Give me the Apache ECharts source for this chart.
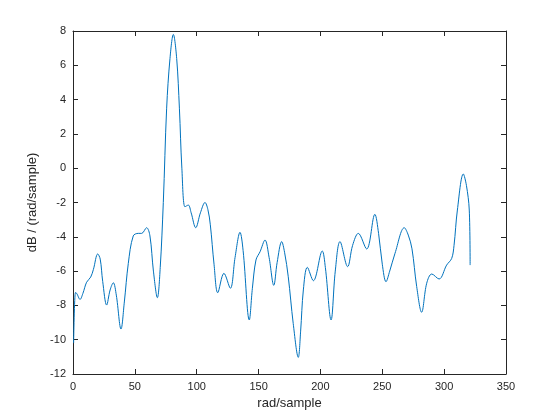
<!DOCTYPE html>
<html>
<head>
<meta charset="utf-8">
<script src="https://cdn.jsdelivr.net/npm/echarts@6/dist/echarts.min.js"></script>
<style>
html,body{margin:0;padding:0;background:#fff;}
#chart{width:560px;height:420px;}
</style>
</head>
<body>
<div id="chart"></div>
<script>
// Frequency (rad/sample) and power spectral density (dB / (rad/sample))
const freq = [0.5,2,3,5.7,8,11,14.3,16.5,20,22,24,27.2,30,32.6,35,38.8,41.5,44.7,48.7,52.8,55.5,59.5,62.2,65,68.2,70.5,73,75.7,78.4,81.1,83.8,86,88,90.5,93.2,95.5,99.2,103,106.7,109,111,114,117,122,127.2,131,135,137.5,142.5,145,147.9,151.2,155.2,158.5,162.3,165,168.7,171,174,178,182.1,184,186.2,189.4,194.3,201.5,204,208.6,212,215.8,222,226,230.6,237.4,244,247,250,253,256,260.3,267.8,271,274,277.8,281.8,285.9,290,295.9,302,306.1,308,310.7,315.5,318,320.3,321];
const psd = [-10.2,-7.25,-7.3,-7.65,-7.3,-6.65,-6.35,-5.9,-5.0,-5.3,-6.6,-7.98,-7.1,-6.68,-7.4,-9.38,-7.8,-5.55,-3.95,-3.8,-3.8,-3.47,-3.95,-6.0,-7.55,-5.8,-2.0,3.5,6.4,7.8,6.4,3.5,0.0,-2.25,-2.15,-2.6,-3.47,-2.6,-2.0,-2.4,-3.3,-5.6,-7.26,-6.13,-7.0,-5.2,-3.74,-4.8,-8.85,-7.0,-5.35,-4.87,-4.19,-5.2,-6.83,-5.5,-4.28,-4.9,-6.33,-9.05,-11.03,-9.5,-7.1,-5.78,-6.56,-4.83,-5.8,-8.85,-6.0,-4.28,-5.74,-4.5,-3.8,-4.71,-2.69,-3.8,-5.6,-6.62,-6.0,-4.96,-3.47,-3.9,-4.7,-6.9,-8.4,-6.71,-6.17,-6.46,-5.65,-5.26,-4.5,-2.44,-0.34,-1.0,-2.44,-5.65];
const xTicks = {min:0, max:350, interval:50};
const yTicks = {min:-12, max:8, interval:2};
const xLabel = 'rad/sample';
const yLabel = 'dB / (rad/sample)';

const axisColor = '#262626';
const font = 'Liberation Sans, Arial, Helvetica, sans-serif';
const chart = echarts.init(document.getElementById('chart'), null, {renderer:'canvas'});
const lineStyle = {color: axisColor, width: 1};
function xa(pos, labels){
  return {
    type:'value', position:pos, min:xTicks.min, max:xTicks.max, interval:xTicks.interval,
    axisLine:{show:true, onZero:false, lineStyle:lineStyle},
    axisTick:{show:true, inside:true, length:5, lineStyle:lineStyle},
    splitLine:{show:false},
    axisLabel:{show:labels, color:axisColor, fontSize:11, fontFamily:font, margin:7},
    name: labels ? xLabel : '', nameLocation:'middle', nameGap:22,
    nameTextStyle:{color:axisColor, fontSize:13, fontFamily:font}
  };
}
function ya(pos, labels){
  return {
    type:'value', position:pos, min:yTicks.min, max:yTicks.max, interval:yTicks.interval,
    axisLine:{show:true, onZero:false, lineStyle:lineStyle},
    axisTick:{show:true, inside:true, length:5, lineStyle:lineStyle},
    splitLine:{show:false},
    axisLabel:{show:labels, color:axisColor, fontSize:11, fontFamily:font, margin:7},
    name: labels ? yLabel : '', nameLocation:'middle', nameGap:28, nameRotate:90,
    nameTextStyle:{color:axisColor, fontSize:13, fontFamily:font}
  };
}
chart.setOption({
  animation:false,
  backgroundColor:'#ffffff',
  grid:{left:73, right:54, top:31, bottom:46, containLabel:false},
  xAxis:[xa('bottom', true), xa('top', false)],
  yAxis:[ya('left', true), ya('right', false)],
  series:[{
    type:'line',
    xAxisIndex:0, yAxisIndex:0,
    data: freq.map((f,i)=>[f, psd[i]]),
    showSymbol:false,
    smooth:0.35,
    lineStyle:{color:'#0072BD', width:1},
    clip:true
  }]
});
</script>
</body>
</html>
